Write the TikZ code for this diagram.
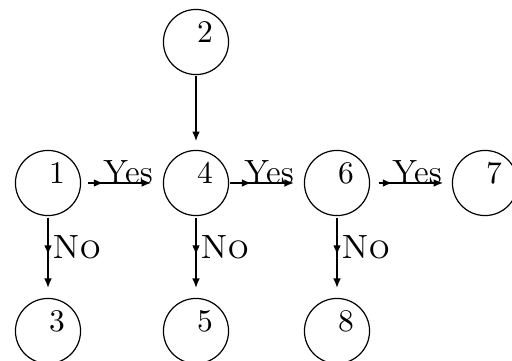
\documentclass[tikz,border=0pt]{standalone}
\usetikzlibrary{arrows.meta,decorations.markings}
\begin{document}
\begin{tikzpicture}[x=0.3333pt,y=-0.3333pt,
  state/.style={circle,draw,line width=0.4pt,minimum size=21.7pt,inner sep=0pt,
    label={[xshift=3pt,yshift=3.3pt,inner sep=0pt,font=\fontsize{10.5}{12}\selectfont]center:#1}},
  tipa/.tip={Latex[length=3.3pt,width=2.6pt]},
  flow/.style={line width=0.9pt,-tipa},
  hmark/.style={postaction={decorate},decoration={markings,mark=at position 7.5pt with {\arrow{tipa}}}},
  vmark/.style={postaction={decorate},decoration={markings,mark=at position 13pt with {\arrow{tipa}}}},
  yeslab/.style={anchor=base east,inner sep=0pt,pos=1,xshift=-2.9pt,font=\fontsize{11.2}{13}\selectfont},
  nolab/.style={anchor=west,inner sep=1pt,pos=0.38,font=\fontsize{11.2}{13}\selectfont}]
\useasboundingbox (0,0) rectangle (512,360);
\node[state=1] (n1) at (48,183) {};
\node[state=2] (n2) at (196,42) {};
\node[state=3] (n3) at (48,331) {};
\node[state=4] (n4) at (196,183) {};
\node[state=5] (n5) at (196,331) {};
\node[state=6] (n6) at (337,183) {};
\node[state=7] (n7) at (485,183) {};
\node[state=8] (n8) at (337,331) {};
\draw[flow,shorten <=0.2pt,shorten >=2.8pt] (n2) -- (n4);
\draw[flow,hmark,shorten <=2.2pt,shorten >=3.8pt] (n1) -- (n4) node[yeslab]{Yes};
\draw[flow,hmark,shorten <=0.3pt,shorten >=3.2pt] (n4) -- (n6) node[yeslab]{Yes};
\draw[flow,hmark,shorten <=2.8pt,shorten >=2.8pt] (n6) -- (n7) node[yeslab]{Yes};
\draw[flow,vmark,shorten <=0.5pt,shorten >=3.2pt] (n1) -- (n3) node[nolab]{\textsc{No}};
\draw[flow,vmark,shorten <=0.5pt,shorten >=3.2pt] (n4) -- (n5) node[nolab]{\textsc{No}};
\draw[flow,vmark,shorten <=0.5pt,shorten >=3.2pt] (n6) -- (n8) node[nolab]{\textsc{No}};
\end{tikzpicture}
\end{document}
